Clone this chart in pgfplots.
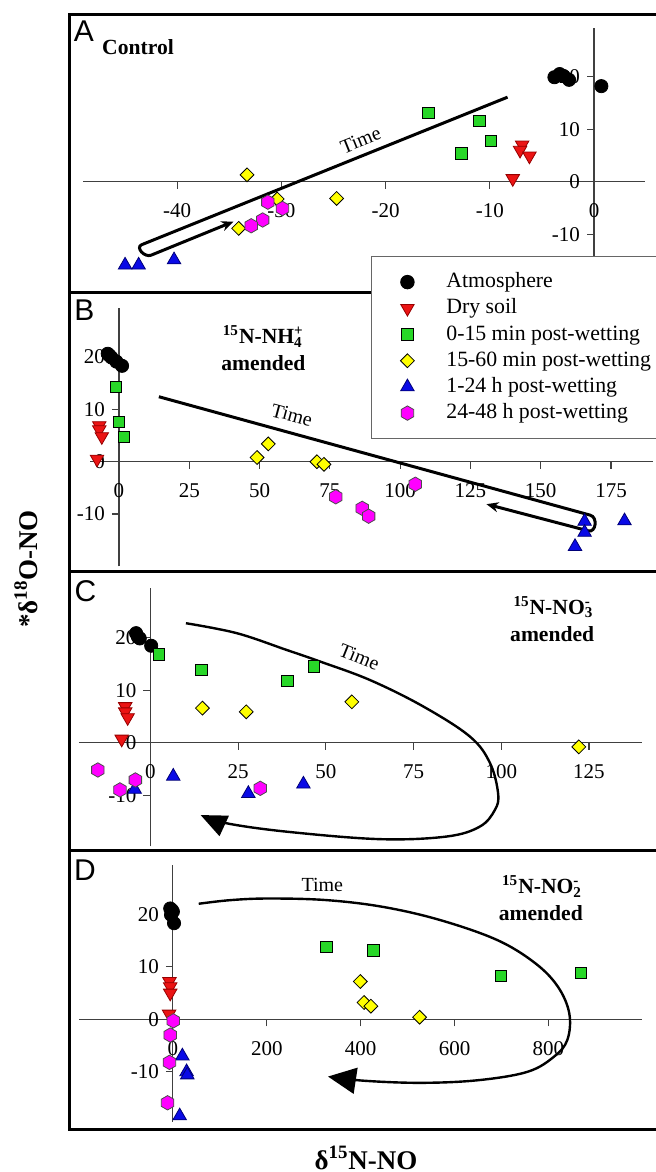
\documentclass[border=0pt]{standalone}
\usepackage{fontspec}
\setmainfont{Liberation Serif}
\newfontfamily\hv{Liberation Sans}
\usepackage{pgfplots}
\pgfplotsset{compat=1.18}
\usetikzlibrary{arrows.meta}

\definecolor{cred}{RGB}{235,20,20}
\definecolor{dred}{RGB}{150,0,0}
\definecolor{cgreen}{RGB}{40,215,40}
\definecolor{cyellow}{RGB}{255,255,0}
\definecolor{cblue}{RGB}{10,10,230}
\definecolor{dblue}{RGB}{0,0,120}
\definecolor{cmag}{RGB}{255,0,255}

\pgfdeclareplotmark{hexagon*}{%
  \pgfpathmoveto{\pgfpointpolar{90}{\pgfplotmarksize}}%
  \pgfpathlineto{\pgfpointpolar{150}{\pgfplotmarksize}}%
  \pgfpathlineto{\pgfpointpolar{210}{\pgfplotmarksize}}%
  \pgfpathlineto{\pgfpointpolar{270}{\pgfplotmarksize}}%
  \pgfpathlineto{\pgfpointpolar{330}{\pgfplotmarksize}}%
  \pgfpathlineto{\pgfpointpolar{30}{\pgfplotmarksize}}%
  \pgfpathclose
  \pgfusepathqfillstroke}

\pgfplotsset{
  panel/.style={
    scale only axis, clip=false, anchor=south west,
    axis lines=middle,
    axis line style={-, black!75, line width=0.6pt},
    tick style={black!75, line width=0.6pt},
    major tick length=3.5pt, tick align=outside,
    hide obscured x ticks=false, hide obscured y ticks=false,
    ytick={-10,0,10,20},
    tick label style={font=\fontsize{10.5}{12}\selectfont},
    xticklabel style={yshift=-4pt},
    /pgf/number format/assume math mode=true,
  },
  atm/.style={only marks, mark=*, mark size=3.3pt, mark options={draw=black, fill=black}},
  dry/.style={only marks, mark=triangle*, mark size=3.9pt, mark options={rotate=180, draw=dred, fill=cred, line width=0.4pt}},
  gA/.style={only marks, mark=square*, mark size=2.9pt, mark options={draw=black, fill=cgreen, line width=0.4pt}},
  yB/.style={only marks, mark=square*, mark size=2.45pt, mark options={rotate=45, draw=black, fill=cyellow, line width=0.4pt}},
  bC/.style={only marks, mark=triangle*, mark size=3.9pt, mark options={draw=dblue, fill=cblue, line width=0.4pt}},
  mD/.style={only marks, mark=hexagon*, mark size=3.6pt, mark options={draw=black!70, fill=cmag, line width=0.4pt}},
}

\begin{document}
\begin{tikzpicture}
\useasboundingbox (0,0) rectangle (328pt,586pt);

% ---------- panel A
\draw[line width=1.5pt] (34.75pt,439.5pt) rectangle (340pt,578.5pt);
\begin{axis}[panel, at={(41.7pt,441.35pt)}, width=280.85pt, height=130.45pt,
  xmin=-49, xmax=4.9, ymin=-20.5, ymax=29.2, xtick={-40,-30,-20,-10,0}]
\addplot[atm] coordinates {(-3.8,19.9) (-3.3,20.5) (-2.9,20.1) (-2.4,19.4) (0.7,18.2)};
\addplot[dry] coordinates {(-6.9,7.0) (-7.1,6.0) (-6.2,4.9) (-7.8,0.6)};
\addplot[gA] coordinates {(-15.9,13.1) (-11.0,11.6) (-9.9,7.8) (-12.7,5.4)};
\addplot[yB] coordinates {(-33.3,1.3) (-30.4,-3.3) (-24.7,-3.2) (-34.1,-8.9)};
\addplot[bC] coordinates {(-45.0,-15.9) (-43.7,-15.9) (-40.3,-14.9)};
\addplot[mD] coordinates {(-31.3,-3.9) (-29.9,-5.1) (-31.8,-7.3) (-32.9,-8.4)};
\draw[line width=1.5pt, -{Stealth[length=6pt,width=5pt]}]
  (axis cs:-8.3,16.1) -- (axis cs:-43.4,-12.0) to[out=202,in=202,looseness=1.3]
  (axis cs:-42.5,-14.0) -- (axis cs:-34.6,-7.6);
\node[rotate=22, font=\fontsize{10}{12}\selectfont] at (axis cs:-22.4,7.9) {Time};
\end{axis}
\node[font=\hv\fontsize{15}{16}\selectfont] at (42pt,570.5pt) {A};
\node[anchor=west, inner sep=0pt, font=\bfseries\fontsize{10.8}{13}\selectfont] at (50.9pt,562.25pt) {Control};

% ---------- panel B
\draw[line width=1.5pt] (34.75pt,300pt) rectangle (340pt,439.5pt);
\begin{axis}[panel, at={(45pt,302.75pt)}, width=281.6pt, height=129.15pt,
  xmin=-10.3, xmax=190, ymin=-20, ymax=29.3, xtick={0,25,50,75,100,125,150,175},
  legend style={at={(axis cs:89.6,39.26)}, anchor=north west, draw=black!60,
    fill=white, line width=0.6pt, inner xsep=14.5pt, inner ysep=6.5pt,
    font=\fontsize{10.9}{12}\selectfont, row sep=0.6pt, column sep=14pt,
    nodes={inner ysep=1pt, text height=8pt, text depth=2.5pt}},
  legend cell align=left]
\addplot[atm] coordinates {(-4.0,20.6) (-3.4,20.3) (-2.7,19.9) (-0.9,19.1) (1.1,18.3)};
\addlegendentry{Atmosphere}
\addplot[dry] coordinates {(-7.0,6.9) (-7.0,6.1) (-6.1,4.8) (-7.8,0.5)};
\addlegendentry{Dry soil}
\addplot[gA] coordinates {(-1.1,14.3) (0,7.6) (1.8,4.7)};
\addlegendentry{0-15 min post-wetting}
\addplot[yB] coordinates {(53.1,3.4) (49.1,0.8) (70.4,0.0) (72.9,-0.5)};
\addlegendentry{15-60 min post-wetting}
\addplot[bC] coordinates {(165.6,-11.4) (165.6,-13.5) (162.2,-16.2) (179.8,-11.3)};
\addlegendentry{1-24 h post-wetting}
\addplot[mD] coordinates {(105.4,-4.3) (77.1,-6.7) (86.5,-8.9) (88.8,-10.4)};
\addlegendentry{24-48 h post-wetting}
\draw[line width=1.5pt, -{Stealth[length=6pt,width=5pt]}]
  (axis cs:14.2,12.4) -- (axis cs:167.6,-10.2) to[out=-15,in=-15,looseness=1.3]
  (axis cs:166.9,-13.2) -- (axis cs:130.7,-8.1);
\node[rotate=-15, font=\fontsize{10}{12}\selectfont] at (axis cs:61.5,8.9) {Time};
\end{axis}
\node[font=\hv\fontsize{15}{16}\selectfont] at (42.25pt,431pt) {B};
\node[align=center, font=\bfseries\fontsize{10.8}{13.35}\selectfont] at (131.7pt,411.8pt)
  {\textsuperscript{15}N-NH\rlap{\textsubscript{4}}\textsuperscript{+}\\amended};

% ---------- panel C
\draw[line width=1.5pt] (34.75pt,160.5pt) rectangle (340pt,300pt);
\begin{axis}[panel, at={(39.45pt,162.75pt)}, width=281.35pt, height=129.2pt,
  xmin=-20.4, xmax=140, ymin=-19.8, ymax=29.5, xtick={0,25,50,75,100,125}]
\addplot[atm] coordinates {(-4.1,20.9) (-3.6,20.2) (-3.05,19.9) (0.2,18.5)};
\addplot[dry] coordinates {(-7.2,6.9) (-7.2,5.9) (-6.5,4.8) (-8.2,0.7)};
\addplot[gA] coordinates {(2.4,16.9) (14.5,13.9) (39.0,11.8) (46.6,14.6)};
\addplot[yB] coordinates {(14.8,6.6) (27.3,5.9) (57.4,7.8) (122.1,-0.8)};
\addplot[bC] coordinates {(6.5,-6.4) (-4.5,-8.9) (27.9,-9.7) (43.6,-7.9)};
\addplot[mD] coordinates {(-15.0,-5.2) (-8.7,-9.0) (-4.3,-7.1) (31.3,-8.7)};
\addplot[smooth, tension=0.6, line width=1.2pt, -{Triangle[length=13pt,width=11pt]}]
  coordinates {(10.1,22.8) (24.6,20.9) (38.8,17.7) (48.3,15.5) (62.6,11.95)
  (77.8,6.9) (91.1,1.15) (96.8,-3.9) (99.1,-9.7) (98.2,-12.8) (93.9,-16.0)
  (84.4,-17.9) (65.4,-18.4) (39.2,-17.0) (21.9,-15.4) (14.3,-13.8)};
\node[rotate=-22, font=\fontsize{10}{12}\selectfont] at (axis cs:59.5,16.4) {Time};
\end{axis}
\node[font=\hv\fontsize{15}{16}\selectfont] at (42.75pt,290.5pt) {C};
\node[align=center, font=\bfseries\fontsize{10.8}{13.35}\selectfont] at (276.1pt,276.6pt)
  {\textsuperscript{15}N-NO\rlap{\textsubscript{3}}\textsuperscript{-}\\amended};

% ---------- panel D
\draw[line width=1.5pt] (34.75pt,21pt) rectangle (340pt,160.5pt);
\begin{axis}[panel, at={(39.5pt,25.15pt)}, width=281.3pt, height=128.4pt,
  xmin=-200, xmax=998.5, ymin=-19.5, ymax=29.4, xtick={0,200,400,600,800}]
\addplot[atm] coordinates {(-5.7,21.1) (-2,20.8) (0,20.5) (-4,19.9) (2.4,18.3)};
\addplot[dry] coordinates {(-7.3,7.2) (-5.7,6.2) (-5.7,5.0) (-8.1,1.0)};
\addplot[gA] coordinates {(326.4,13.8) (427.6,13.1) (698.8,8.3) (868.8,8.8)};
\addplot[yB] coordinates {(399.2,7.2) (407.3,3.2) (421.8,2.5) (525.5,0.4)};
\addplot[bC] coordinates {(20.2,-7.0) (29.2,-10.0) (30.7,-10.6) (14.5,-18.4)};
\addplot[mD] coordinates {(0.9,-0.3) (-5.7,-3.0) (-7.3,-8.2) (-11.3,-15.9)};
\addplot[smooth, tension=0.6, line width=1.2pt, -{Triangle[length=14pt,width=13pt]}]
  coordinates {(55,22.0) (123.8,22.7) (204.9,23.0) (326.4,22.7) (447.8,21.4) (569.2,18.9)
  (690.7,15.1) (771.6,10.7) (820.2,6.2) (844.5,1.1) (840.4,-3.9) (812.1,-7.1)
  (755.4,-10.0) (650.2,-11.6) (528.8,-12.1) (407.3,-11.7) (330.4,-10.9)};
\node[font=\fontsize{10}{12}\selectfont] at (axis cs:318.3,25.6) {Time};
\end{axis}
\node[font=\hv\fontsize{15}{16}\selectfont] at (42.5pt,151pt) {D};
\node[align=center, font=\bfseries\fontsize{10.8}{13.35}\selectfont] at (270.4pt,136.8pt)
  {\textsuperscript{15}N-NO\rlap{\textsubscript{2}}\textsuperscript{-}\\amended};

% ---------- axis titles
\node[anchor=base, inner sep=0pt, text depth=0pt, font=\bfseries\fontsize{13.5}{15}\selectfont] at (183pt,1.5pt) {δ\textsuperscript{15}N-NO};
\node[rotate=90, font=\bfseries\fontsize{13.5}{15}\selectfont] at (13pt,301.5pt) {*δ\textsuperscript{18}O-NO};
\end{tikzpicture}
\end{document}
